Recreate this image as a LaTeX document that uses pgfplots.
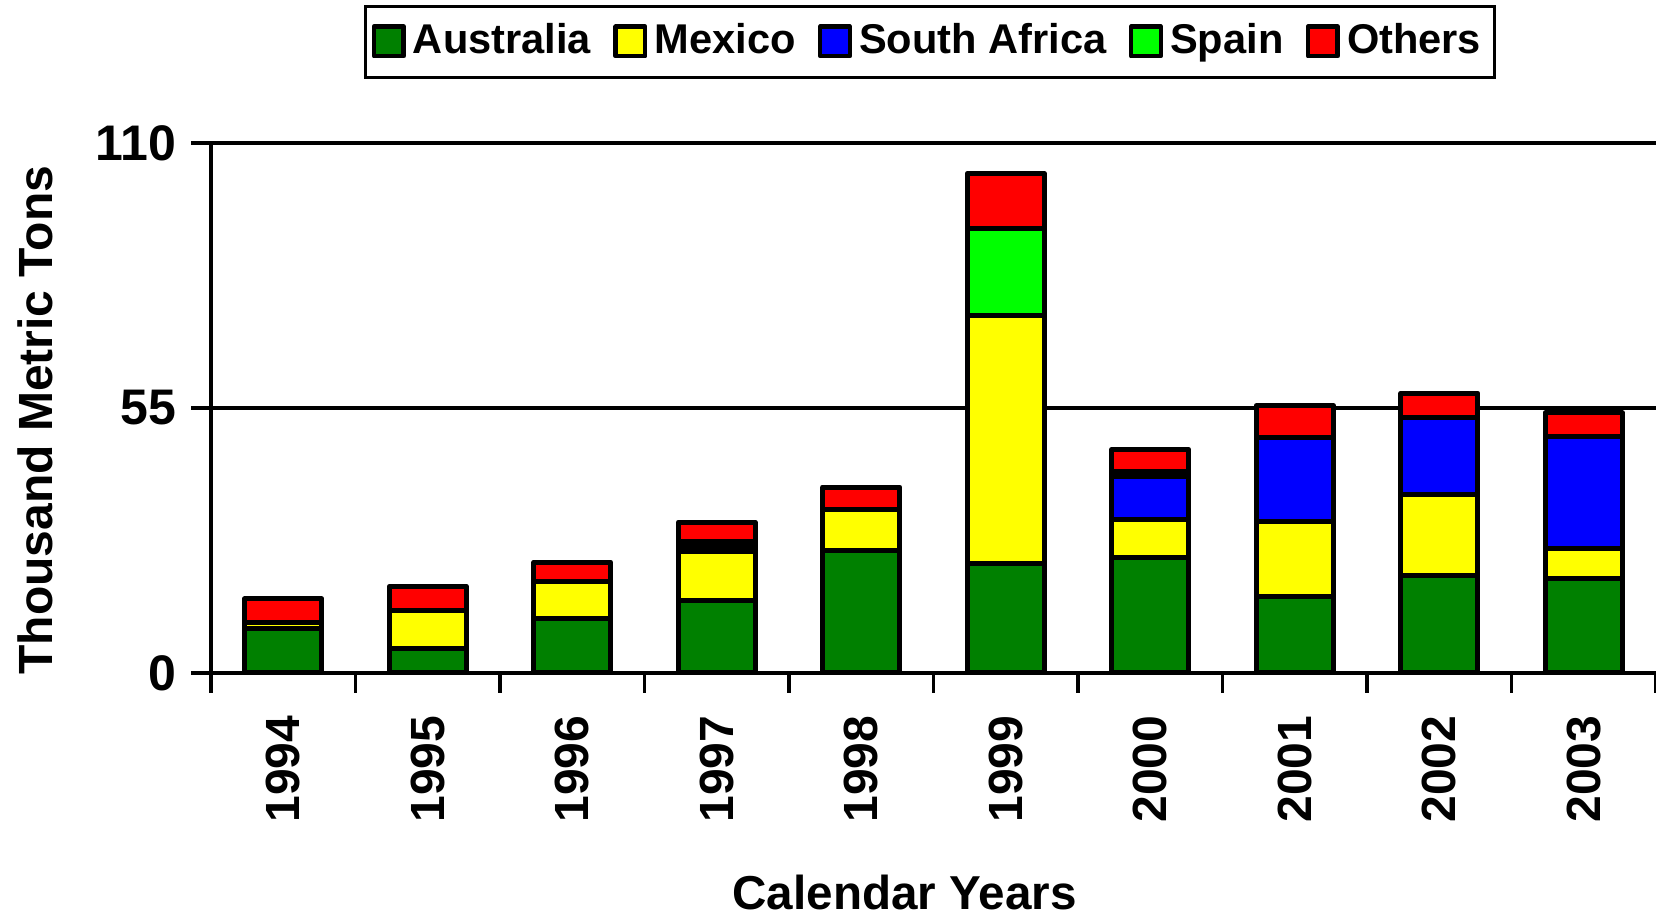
\documentclass[border=0pt]{standalone}
\usepackage{fontspec}
\setmainfont{Liberation Sans}
\usepackage{pgfplots}
\usepackage{pgfplotstable}
\pgfplotsset{compat=1.18}
\definecolor{aus}{RGB}{0,128,0}
\definecolor{mex}{RGB}{255,255,0}
\definecolor{saf}{RGB}{0,0,255}
\definecolor{spa}{RGB}{0,255,0}
\definecolor{oth}{RGB}{255,0,0}
\pgfplotsset{sq/.style={legend image code/.code={\draw[##1,draw=black,line width=1.1pt] (0pt,-3.6pt) rectangle (7.4pt,3.8pt);}}}
\pgfplotstableread{
x aus mex sa spa oth
0 9.2 1.3 0 0 4.9
1 5.1 7.9 0 0 5.0
2 11.4 7.5 0 0 4.1
3 15.1 10.1 1.0 1.1 4.0
4 25.4 8.5 0 0 4.7
5 22.8 51.4 0 18.1 11.4
6 23.9 7.9 8.9 1.1 4.6
7 15.9 15.5 17.4 0 6.7
8 20.3 16.7 16.1 0 5.0
9 19.6 6.2 23.2 0 5.0
}\data
\begin{document}
\begin{tikzpicture}
\path[use as bounding box] (-52.75pt,-60.75pt) rectangle (361.25pt,168.25pt);
\begin{axis}[
  scale only axis, width=361.25pt, height=132.5pt,
  xmin=-0.5, xmax=9.5, ymin=0, ymax=110,
  ybar stacked, bar width=19.25pt,
  axis lines=left, axis line style={-, line width=0.8pt},
  ytick={0,55,110}, yticklabels={0,55,110},
  ymajorgrids, grid style={black, line width=0.8pt},
  xtick={-0.5,0.5,...,9.5}, x tick label as interval,
  xticklabels={1994,1995,1996,1997,1998,1999,2000,2001,2002,2003},
  tick align=outside, major tick length=5pt,
  tick style={black, line width=0.8pt},
  xticklabel style={font=\bfseries\fontsize{12}{12}\selectfont, yshift=-5.5pt, rotate=90, anchor=east, inner sep=0pt},
  yticklabel style={font=\bfseries\fontsize{12.5}{12}\selectfont, xshift=-3.5pt, anchor=east, inner sep=0pt},
  every axis x label/.style={at={([yshift=-59.25pt]axis description cs:0.48,0)}, anchor=base},
  every axis y label/.style={at={([xshift=-39.5pt]axis description cs:0,0.477)}, rotate=90, anchor=base},
  xlabel={\bfseries\fontsize{11.9}{12}\selectfont Calendar Years},
  ylabel={\bfseries\fontsize{12}{12}\selectfont Thousand Metric Tons},
  legend columns=5,
  legend style={at={([yshift=34.5pt]axis description cs:0.4976,1)}, anchor=north,
    draw=black, line width=0.8pt, inner xsep=1.5pt, inner ysep=2.5pt,
    font=\bfseries\fontsize{10.4}{12}\selectfont,
    nodes={inner xsep=1.8pt, inner ysep=1.8pt},
    /tikz/every even column/.append style={column sep=3.8pt}},
]
\addplot[fill=aus, draw=black, line width=1.25pt, line join=round, sq] table[x=x,y=aus]{\data};
\addplot[fill=mex, draw=black, line width=1.25pt, line join=round, sq] table[x=x,y=mex]{\data};
\addplot[fill=saf, draw=black, line width=1.25pt, line join=round, sq] table[x=x,y=sa]{\data};
\addplot[fill=spa, draw=black, line width=1.25pt, line join=round, sq] table[x=x,y=spa]{\data};
\addplot[fill=oth, draw=black, line width=1.25pt, line join=round, sq] table[x=x,y=oth]{\data};
\legend{Australia,Mexico,South Africa,Spain,Others}
\end{axis}
\end{tikzpicture}
\end{document}
